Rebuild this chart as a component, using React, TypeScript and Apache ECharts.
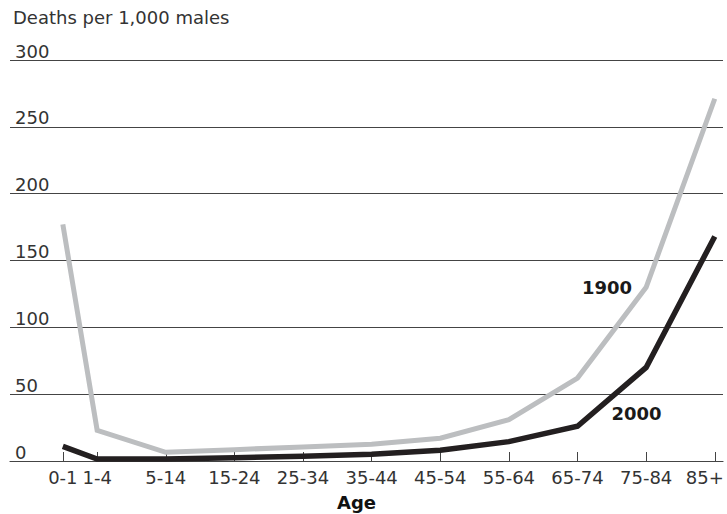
import React, { useEffect, useRef } from "react";
import * as echarts from "echarts";

const ageLabels = ["0-1", "1-4", "5-14", "15-24", "25-34", "35-44", "45-54", "55-64", "65-74", "75-84", "85+"];
// position of each age band along the horizontal axis (band units)
const agePositions = [0, 0.5, 1.5, 2.5, 3.5, 4.5, 5.5, 6.5, 7.5, 8.5, 9.5];
const deaths1900 = [177, 23, 6.5, 8.5, 10.5, 12.5, 17, 31, 62, 130, 271];
const deaths2000 = [11, 1.5, 1.5, 2.5, 3.5, 5, 8, 14.5, 26, 70, 168];
const yTicks = [0, 50, 100, 150, 200, 250, 300];

const FONT = "DejaVu Sans";
const TEXT = "#333333";

export default function App() {
  const ref = useRef<HTMLDivElement>(null);
  useEffect(() => {
    if (!ref.current) return;
    const chart = echarts.init(ref.current, null, { renderer: "svg" });
    const last = agePositions.length - 1;
    chart.setOption({
      animation: false,
      backgroundColor: "#ffffff",
      grid: { left: 10, right: 4, top: 60, bottom: 53 },
      graphic: [
        {
          type: "text",
          left: 13,
          top: 8,
          style: { text: "Deaths per 1,000 males", fontFamily: FONT, fontSize: 18, fill: TEXT },
        },
        {
          type: "text",
          left: 337,
          top: 493,
          style: { text: "Age", fontFamily: FONT, fontSize: 18, fontWeight: "bold", fill: "#111" },
        },
      ],
      xAxis: {
        type: "value",
        min: -0.77,
        max: 9.62,
        splitLine: { show: false },
        axisLine: { show: true, lineStyle: { color: "#444", width: 1.2 } },
        axisTick: {
          show: true,
          inside: true,
          length: 9,
          customValues: agePositions,
          lineStyle: { color: "#444", width: 1 },
        },
        axisLabel: {
          customValues: agePositions,
          margin: 7,
          fontFamily: FONT,
          fontSize: 18,
          color: TEXT,
          formatter: (v: number) => {
            const i = agePositions.indexOf(v);
            if (i < 0) return "";
            return i === last ? "{r|" + ageLabels[i] + "}" : ageLabels[i];
          },
          rich: {
            r: { fontFamily: FONT, fontSize: 18, color: TEXT, padding: [0, 20, 0, 0] },
          },
        },
      },
      yAxis: {
        type: "value",
        min: 0,
        max: 300,
        interval: 50,
        axisLine: { show: false },
        axisTick: { show: false },
        splitLine: { show: true, lineStyle: { color: "#444", width: 1.2 } },
        axisLabel: {
          inside: true,
          align: "left",
          verticalAlign: "bottom",
          margin: 5,
          fontFamily: FONT,
          fontSize: 18,
          color: TEXT,
          formatter: (v: number) => (yTicks.indexOf(v) >= 0 ? String(v) : ""),
        },
      },
      series: [
        {
          name: "1900",
          type: "line",
          data: agePositions.map((x, i) => [x, deaths1900[i]]),
          showSymbol: false,
          lineStyle: { color: "#bcbec0", width: 5, cap: "butt", join: "miter" },
          itemStyle: { color: "#bcbec0" },
          markPoint: {
            symbol: "circle",
            symbolSize: 0,
            data: [{ coord: [agePositions[9], deaths1900[9]] }],
            label: {
              show: true,
              position: "left",
              distance: 14,
              formatter: "1900",
              fontFamily: FONT,
              fontSize: 18,
              fontWeight: "bold",
              color: "#1a1a1a",
            },
          },
          z: 2,
        },
        {
          name: "2000",
          type: "line",
          data: agePositions.map((x, i) => [x, deaths2000[i]]),
          showSymbol: false,
          lineStyle: { color: "#231f20", width: 5.5, cap: "butt", join: "miter" },
          itemStyle: { color: "#231f20" },
          markPoint: {
            symbol: "circle",
            symbolSize: 0,
            data: [{ coord: [agePositions[8], deaths2000[8]] }],
            label: {
              show: true,
              position: "right",
              distance: 34,
              offset: [0, -13],
              formatter: "2000",
              fontFamily: FONT,
              fontSize: 18,
              fontWeight: "bold",
              color: "#1a1a1a",
            },
          },
          z: 3,
        },
      ],
    });
    return () => chart.dispose();
  }, []);
  return <div ref={ref} style={{ width: 727, height: 514, position: "absolute", left: 0, top: 0 }} />;
}
